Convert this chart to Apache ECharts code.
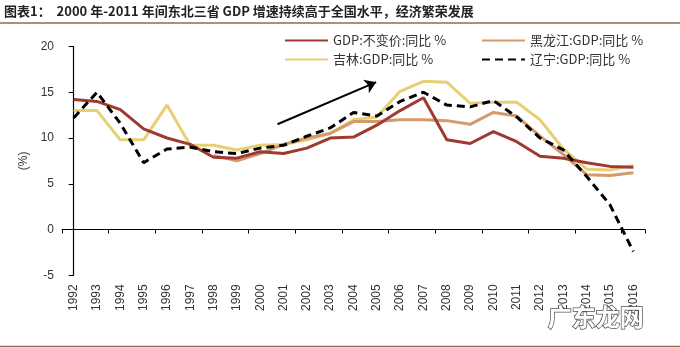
<!DOCTYPE html>
<html>
<head>
<meta charset="utf-8">
<script src="https://cdn.jsdelivr.net/npm/echarts@6/dist/echarts.min.js"></script>
<style>
html,body{margin:0;padding:0;background:#fff;}
#c{width:680px;height:348px;}
</style>
</head>
<body>
<div id="c"></div>
<script>
var years = ['1992','1993','1994','1995','1996','1997','1998','1999','2000','2001','2002','2003','2004','2005','2006','2007','2008','2009','2010','2011','2012','2013','2014','2015','2016'];
var national = [14.2,14.0,13.1,11.0,10.0,9.3,7.9,7.8,8.5,8.3,8.9,10.0,10.1,11.4,13.0,14.4,9.8,9.4,10.7,9.6,8.0,7.8,7.3,6.9,6.8];
var heilongjiang = [null,null,null,null,null,null,8.1,7.5,8.3,9.3,10.0,10.5,11.8,11.8,12.0,12.0,11.9,11.5,12.8,12.4,10.2,8.2,6.0,5.9,6.2];
var jilin = [13.0,13.0,9.8,9.8,13.6,9.2,9.2,8.7,9.2,9.3,9.8,10.5,12.0,12.3,15.1,16.2,16.1,13.8,13.9,13.9,12.0,8.8,6.6,6.5,7.0];
var liaoning = [12.2,15.0,11.6,7.3,8.8,9.0,8.5,8.3,8.9,9.2,10.2,11.1,12.8,12.4,14.0,15.0,13.6,13.4,14.1,12.3,10.0,8.7,5.8,2.7,-2.4];
var yTicks = {min:-5, max:20, interval:5};
var arrowPts = [[8.74,11.5],[12.97,16.1]];
var names = ['GDP:不变价:同比 %','黑龙江:GDP:同比 %','吉林:GDP:同比 %','辽宁:GDP:同比 %'];
var titleText = '图表1：  2000 年-2011 年间东北三省 GDP 增速持续高于全国水平，经济繁荣发展';

var colors = ['#9e3a30','#d39a6c','#e8cf74','#000000'];
var chart = echarts.init(document.getElementById('c'), null, {renderer:'canvas'});
var legendBase = function(name, left, top){
  return {data:[name], left:left, top:top, padding:0, itemWidth:43, itemHeight:14,
    itemStyle:{opacity:0},
    textStyle:{fontSize:13, color:'#333', fontFamily:'Noto Sans CJK SC'}};
};
chart.setOption({
  backgroundColor:'#fff',
  animation:false,
  title:{text:titleText, left:4, top:5, padding:0,
    textStyle:{fontSize:13, fontWeight:'bold', color:'#222', fontFamily:'Noto Sans CJK SC'}},
  graphic:[
    {type:'line', shape:{x1:0,y1:23,x2:680,y2:23}, style:{stroke:'#8c6c58', lineWidth:1.5}},
    {type:'line', shape:{x1:0,y1:346.5,x2:680,y2:346.5}, style:{stroke:'#8c6c58', lineWidth:1.5}},
    {type:'text', left:547, top:304, z:100, style:{text:'广东龙网', fontSize:24, fontWeight:'bold',
      fontFamily:'Noto Sans CJK SC', fill:'#ffffff', stroke:'#555', lineWidth:1.5}}
  ],
  legend:[
    legendBase(names[0],284,34),
    legendBase(names[1],481,34),
    legendBase(names[2],284,53),
    legendBase(names[3],481,53)
  ],
  grid:{left:62, right:35, top:46.5, bottom:72.7, containLabel:false},
  xAxis:[
    {type:'category', data:years, boundaryGap:true,
      axisLine:{onZero:true, lineStyle:{color:'#000', width:1.2}},
      axisTick:{show:true, length:4, lineStyle:{color:'#000'}},
      axisLabel:{show:false}, splitLine:{show:false}},
    {type:'category', data:years, boundaryGap:true, position:'bottom',
      axisLine:{show:false, onZero:false}, axisTick:{show:false},
      axisLabel:{rotate:90, margin:9, fontSize:12, color:'#333', fontFamily:'Liberation Sans', interval:0},
      splitLine:{show:false}},
    {type:'value', min:-0.5, max:24.5, show:false}
  ],
  yAxis:{type:'value', min:yTicks.min, max:yTicks.max, interval:yTicks.interval,
    name:'(%)', nameLocation:'middle', nameGap:30, nameRotate:90,
    nameTextStyle:{fontSize:12, color:'#333', fontFamily:'Liberation Sans'},
    axisLine:{show:true, lineStyle:{color:'#000', width:1.2}},
    axisTick:{show:true, length:5, lineStyle:{color:'#000'}},
    axisLabel:{fontSize:12, color:'#333', margin:8, fontFamily:'Liberation Sans'},
    splitLine:{show:false}},
  series:[
    {name:names[2], type:'line', data:jilin, symbol:'none', xAxisIndex:0,
      lineStyle:{color:colors[2], width:3}, itemStyle:{color:colors[2]}},
    {name:names[1], type:'line', data:heilongjiang, symbol:'none', xAxisIndex:0,
      lineStyle:{color:colors[1], width:3}, itemStyle:{color:colors[1]}},
    {name:names[0], type:'line', data:national, symbol:'none', xAxisIndex:0,
      lineStyle:{color:colors[0], width:3}, itemStyle:{color:colors[0]}},
    {name:names[3], type:'line', data:liaoning, symbol:'none', xAxisIndex:0,
      lineStyle:{color:colors[3], width:3, type:[8,5]}, itemStyle:{color:colors[3]}},
    {type:'lines', coordinateSystem:'cartesian2d', xAxisIndex:2, yAxisIndex:0,
      symbol:['none','arrow'], symbolSize:11,
      lineStyle:{color:'#000', width:2, opacity:1},
      data:[{coords:arrowPts}]}
  ]
});
</script>
</body>
</html>
